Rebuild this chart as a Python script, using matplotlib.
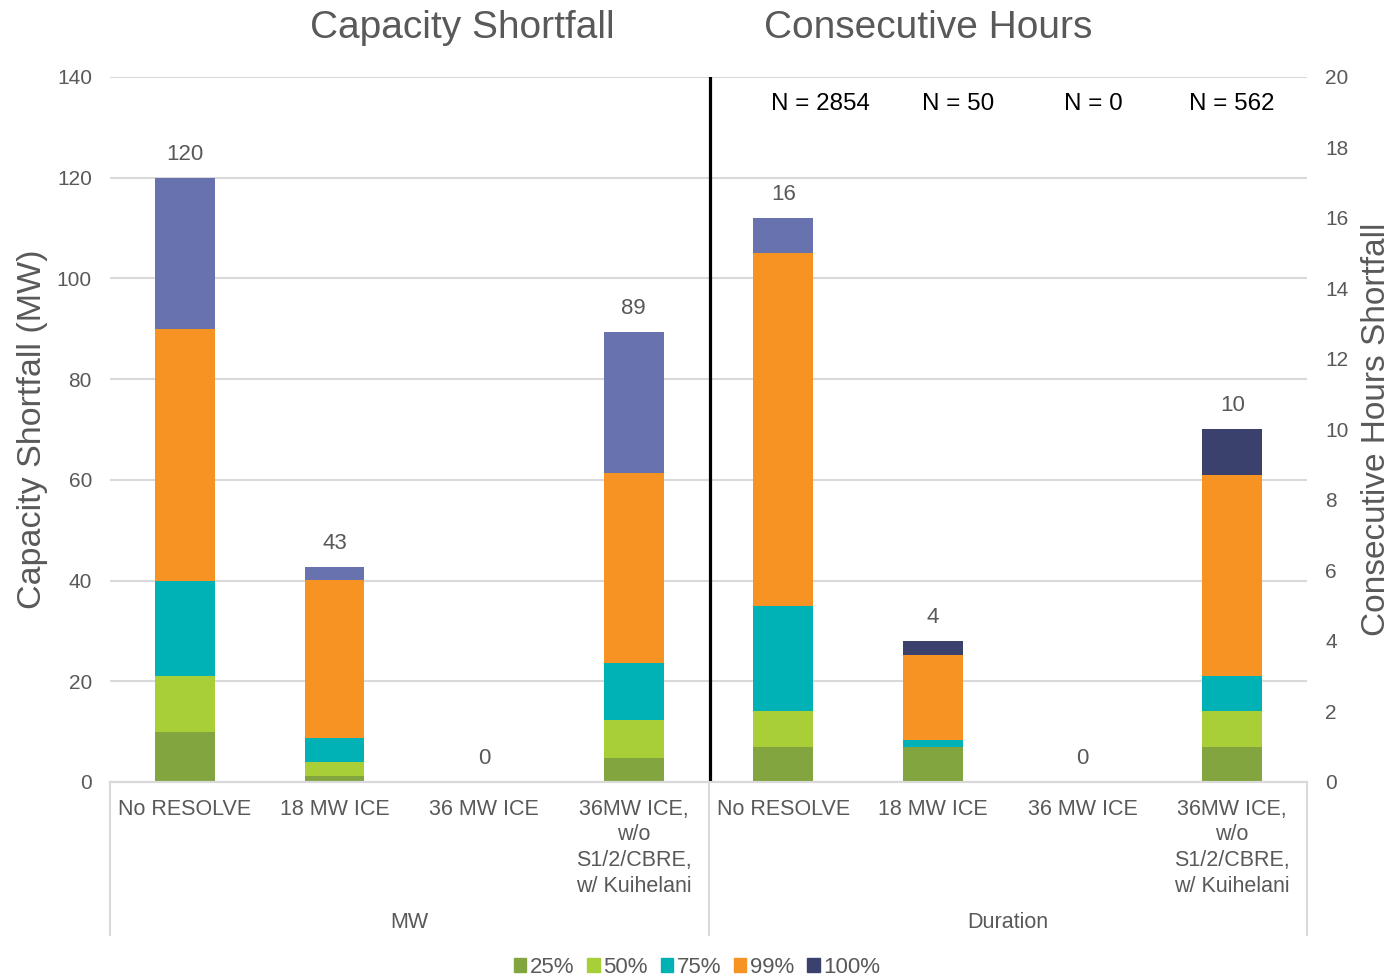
import numpy as np
import matplotlib
matplotlib.use("Agg")
import matplotlib.pyplot as plt
from matplotlib.patches import Patch

plt.rcParams["font.family"] = ["Liberation Sans", "DejaVu Sans"]

#  DATA
categories = ["No RESOLVE", "18 MW ICE", "36 MW ICE",
              "36MW ICE,\nw/o\nS1/2/CBRE,\nw/ Kuihelani"]
groups = ["MW", "Duration"]
series = ["25%", "50%", "75%", "99%", "100%"]

# capacity shortfall (MW), one list per series, one value per category
mw_25  = [10.0, 1.2, 0, 4.8]
mw_50  = [11.0, 2.8, 0, 7.5]
mw_75  = [19.0, 4.8, 0, 11.3]
mw_99  = [50.0, 31.3, 0, 37.8]
mw_100 = [30.0, 2.5, 0, 28.0]

# consecutive hours shortfall
hr_25  = [1.0, 1.0, 0, 1.0]
hr_50  = [1.0, 0.0, 0, 1.0]
hr_75  = [3.0, 0.2, 0, 1.0]
hr_99  = [10.0, 2.4, 0, 5.7]
hr_100 = [1.0, 0.4, 0, 1.3]

n_labels = ["N = 2854", "N = 50", "N = 0", "N = 562"]

#  STYLE
COLORS = ["#82A540", "#A8CE38", "#00B2B6", "#F69322", "#3A416C"]
SLATE = "#6872AF"
TXT = "#595959"
GRID = "#D9D9D9"
BAR_W = 0.4

fig = plt.figure(figsize=(13.94, 9.77), dpi=100)
ax = fig.add_axes([0.0789, 0.1996, 0.8587, 0.7216])
ax2 = ax.twinx()

mw = np.array([mw_25, mw_50, mw_75, mw_99, mw_100])
hr = np.array([hr_25, hr_50, hr_75, hr_99, hr_100])

x_mw = np.arange(4)
x_hr = np.arange(4) + 4

# 100% segments: slate blue on MW side and first duration bar, navy elsewhere
top_mw = [SLATE] * 4
top_hr = [SLATE, COLORS[4], COLORS[4], COLORS[4]]

bottom = np.zeros(4)
for i in range(5):
    c = top_mw if i == 4 else COLORS[i]
    ax.bar(x_mw, mw[i], BAR_W, bottom=bottom, color=c, zorder=2)
    bottom += mw[i]
for xi, tot in zip(x_mw, bottom):
    ax.annotate(f"{round(tot):d}", (xi, tot), xytext=(0, 17), textcoords="offset points",
                ha="center", va="center", fontsize=16, color=TXT)

bottom = np.zeros(4)
for i in range(5):
    c = top_hr if i == 4 else COLORS[i]
    ax2.bar(x_hr, hr[i], BAR_W, bottom=bottom, color=c, zorder=2)
    bottom += hr[i]
for xi, tot in zip(x_hr, bottom):
    ax2.annotate(f"{round(tot):d}", (xi, tot), xytext=(0, 17), textcoords="offset points",
                 ha="center", va="center", fontsize=16, color=TXT)

# N counts over the duration bars
for xi, lab in zip([4.25, 5.17, 6.07, 7.0], n_labels):
    ax2.text(xi, 19.22, lab, ha="center", va="center", fontsize=17.4, color="black")

ax.set_xlim(-0.5, 7.5)
ax.set_ylim(0, 140)
ax2.set_ylim(0, 20)
ax.set_yticks(np.arange(0, 141, 20))
ax2.set_yticks(np.arange(0, 21, 2))
ax.yaxis.grid(True, color=GRID, lw=1.5)
ax.set_axisbelow(True)

for a in (ax, ax2):
    for s in ("top", "left", "right"):
        a.spines[s].set_visible(False)
    a.spines["bottom"].set_color(GRID)
    a.spines["bottom"].set_linewidth(1.5)
    a.tick_params(axis="y", length=0, labelsize=15, labelcolor=TXT)
ax.tick_params(axis="y", pad=13)
ax2.tick_params(axis="y", pad=13)

ax.set_xticks(np.arange(8))
ax.set_xticklabels(categories * 2, fontsize=15.5, color=TXT, linespacing=1.3)
ax.tick_params(axis="x", length=0, pad=12)

ax.set_ylabel("Capacity Shortfall (MW)", fontsize=24.5, color=TXT, labelpad=6)
ax2.set_ylabel("Consecutive Hours Shortfall", fontsize=24, color=TXT, labelpad=9)

# divider between the two panels
ax.axvline(3.51, color="black", lw=2.3, zorder=3)

# group separators and group labels under the axis
tr = ax.get_xaxis_transform()
for xs in (-0.5, 3.5, 7.5):
    ax.plot([xs, xs], [0, -0.217], transform=tr, color=GRID, lw=1.5, clip_on=False)
for xc, g in zip((1.5, 5.5), groups):
    ax.text(xc, -0.199, g, transform=tr, ha="center", va="center", fontsize=15.5, color=TXT)

fig.text(0.332, 0.971, "Capacity Shortfall", ha="center", va="center", fontsize=28, color=TXT)
fig.text(0.666, 0.971, "Consecutive Hours", ha="center", va="center", fontsize=28, color=TXT)

handles = [Patch(color=c, label=s) for c, s in zip(COLORS, series)]
fig.legend(handles=handles, loc="center", bbox_to_anchor=(0.5, 0.01), ncol=5, frameon=False,
           fontsize=16, labelcolor=TXT, handlelength=0.55, handleheight=0.55,
           handletextpad=0.15, columnspacing=0.6)

fig.savefig("out.png", dpi=100)
